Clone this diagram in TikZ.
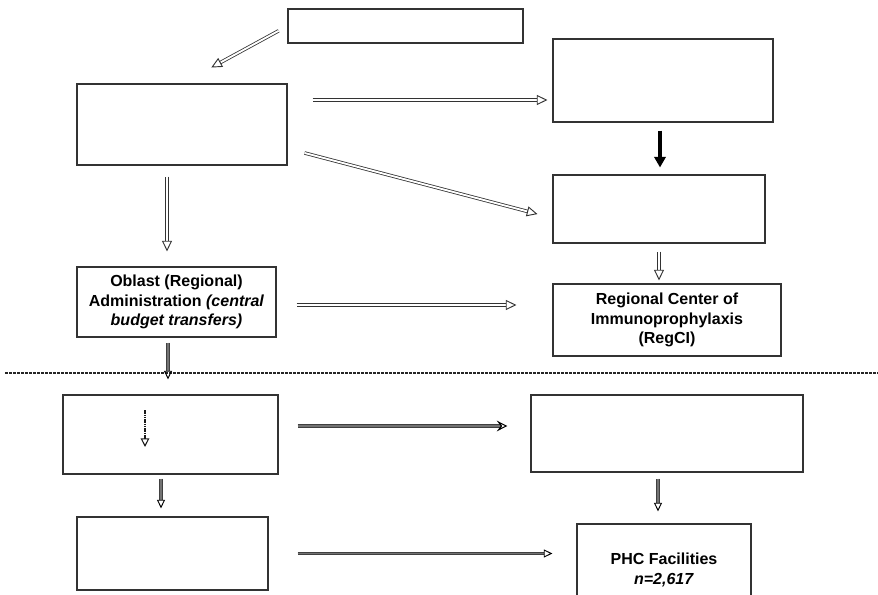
\documentclass[tikz,border=0pt]{standalone}
\usepackage{fontspec}
\setmainfont{Liberation Sans}
\usetikzlibrary{arrows.meta, calc}

\begin{document}
\begin{tikzpicture}[
    x=0.75pt, y=-0.75pt,
    box/.style={rectangle, draw=black!80, line width=0.8pt, inner sep=0pt, align=center, font=\fontsize{12}{14.6}\selectfont\bfseries},
    dbl/.style={draw=black!80, line width=0.6pt, double=white, double distance=1.4pt, -{Triangle[open, length=8pt, width=7.5pt, line width=0.7pt]}},
    gry/.style={draw=black!75, line width=0.6pt, double=black!55, double distance=1.4pt, -{Triangle[open, length=6.5pt, width=6pt, line width=0.7pt, color=black]}},
    blk/.style={draw=black, line width=2.6pt, -{Triangle[length=8pt, width=8.5pt]}},
    dots/.style={draw=black!90, line width=2.2pt, dash pattern=on 1.2pt off 0.5pt, -{Triangle[open, length=6.5pt, width=6.5pt, line width=0.8pt]}},
    sep/.style={draw=black!85, line width=1.1pt, dash pattern=on 2pt off 1pt}
]
    \useasboundingbox (0,0) rectangle (878,595);
    \clip (0,0) rectangle (878,595);

    % Boxes
    \node[box, minimum width=176.25pt, minimum height=25.5pt] (src) at (405.5,26) {};
    \node[box, minimum width=157.5pt, minimum height=60.75pt] (natl) at (182,124.5) {};
    \node[box, minimum width=165pt, minimum height=62.25pt] (natr) at (663,80.5) {};
    \node[box, minimum width=159pt, minimum height=51pt] (midr) at (659,209) {};
    \node[box, minimum width=149.25pt, minimum height=52.5pt] (oblast) at (176.5,302) {Oblast (Regional)\\Administration \textit{(central}\\\textit{budget transfers)}};
    \node[box, minimum width=171pt, minimum height=54pt] (regci) at (667,320) {Regional Center of\\Immunoprophylaxis\\(RegCI)};
    \node[box, minimum width=161.25pt, minimum height=59.25pt] (dist) at (170.5,434.5) {};
    \node[box, minimum width=204pt, minimum height=57.75pt] (distr) at (667,433.5) {};
    \node[box, minimum width=143.25pt, minimum height=54.75pt] (distb) at (172.5,553.5) {};
    \node[box, minimum width=130.5pt, minimum height=69pt] (phc) at (664,570) {PHC Facilities\\\textit{n=2,617}};

    % Separator
    \coordinate (sepl) at (5,373);
    \coordinate (sepr) at (878,373);
    \draw[sep] (sepl) -- (sepr);

    % Upper level arrows
    \draw[dbl, shorten <=7.5pt, shorten >=25pt] (src.west) -- (natl.north);
    \draw[dbl, shorten <=18.75pt, shorten >=3.75pt] ($(natl.east)+(0,-24.5)$) -- ($(natr.west)+(0,19.5)$);
    \draw[dbl, shorten <=13.2pt, shorten >=11.6pt] ($(natl.east)+(0,24)$) -- ($(midr.west)+(0,9)$);
    \draw[dbl, shorten <=8.25pt, shorten >=11.25pt] ($(natl.south)+(-15,0)$) -- ($(natl.south |- oblast.north)+(-15,0)$);
    \draw[blk, shorten <=6pt, shorten >=5.25pt] ($(natr.south)+(-3,0)$) -- ($(natr.south |- midr.north)+(-3,0)$);
    \draw[dbl, shorten <=6pt, shorten >=2.25pt] (midr.south) -- (midr.south |- regci.north);
    \draw[dbl, shorten <=15pt, shorten >=27pt] ($(oblast.east)+(0,3)$) -- ($(oblast.east -| regci.west)+(0,3)$);

    % Lower level arrows
    \draw[gry, shorten <=3.75pt, shorten >=11.25pt] ($(oblast.south)+(-8.5,0)$) -- ($(oblast.south |- dist.north)+(-8.5,0)$);
    \coordinate (dtop) at ($(dist.center)+(-25.5,-24.5)$);
    \coordinate (dbot) at ($(dist.center)+(-25.5,12.5)$);
    \draw[dots] (dtop) -- (dbot);
    \draw[gry, -{Stealth[open, length=8pt, width=8pt, inset=3pt, line width=0.8pt, color=black]}, shorten <=14.25pt, shorten >=17.25pt] ($(dist.east)+(0,-8.5)$) -- ($(distr.west)+(0,-7.5)$);
    \draw[gry, shorten <=3pt, shorten >=6pt] ($(dist.south)+(-9.5,0)$) -- ($(dist.south |- distb.north)+(-9.5,0)$);
    \draw[gry, shorten <=4.5pt, shorten >=9pt] ($(distr.south)+(-9,0)$) -- ($(distr.south |- phc.north)+(-9,0)$);
    \draw[gry, shorten <=21.75pt, shorten >=18pt] (distb.east) -- (distb.east -| phc.west);
\end{tikzpicture}
\end{document}
